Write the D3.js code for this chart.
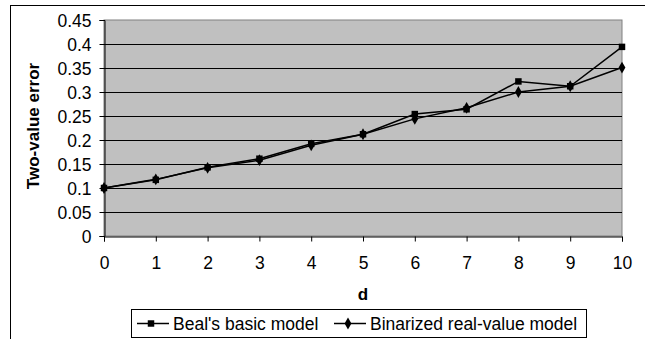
<!DOCTYPE html>
<html>
<head>
<meta charset="utf-8">
<script src="https://cdn.jsdelivr.net/npm/d3@7"></script>
<style>
  body { margin: 0; background: #fff; }
  svg { display: block; font-family: "Liberation Sans", Arial, sans-serif; }
</style>
</head>
<body>
<div id="chart"></div>
<script>
// valores
const d_vals = [0, 1, 2, 3, 4, 5, 6, 7, 8, 9, 10];
const beal = [0.100, 0.117, 0.143, 0.161, 0.192, 0.212, 0.254, 0.264, 0.322, 0.312, 0.394];
const binarized = [0.100, 0.118, 0.142, 0.158, 0.189, 0.212, 0.244, 0.267, 0.300, 0.312, 0.351];
const y_ticks = [0, 0.05, 0.1, 0.15, 0.2, 0.25, 0.3, 0.35, 0.4, 0.45];
const series_names = ["Beal's basic model", "Binarized real-value model"];

const width = 645, height = 339;
const margin = { top: 20, right: 23, bottom: 103, left: 104 };
const font_size = 17.5;

const svg = d3.select('#chart')
    .append('svg')
    .attr('width', width)
    .attr('height', height);

// moldura externa (cortada pela janela)
svg.append('rect')
    .attr('x', 10.5).attr('y', 5.5)
    .attr('width', 700).attr('height', 400)
    .attr('fill', 'none').attr('stroke', '#000');

const x = d3.scaleLinear().domain([0, 10]).range([margin.left, width - margin.right]);
const y = d3.scaleLinear().domain([0, 0.45]).range([height - margin.bottom, margin.top]);

svg.append('rect')
    .attr('x', margin.left).attr('y', margin.top)
    .attr('width', x(10) - x(0)).attr('height', y(0) - y(0.45))
    .attr('fill', '#c0c0c0').attr('stroke', '#808080');

// linhas de grade
svg.append('g')
    .selectAll('line')
    .data(y_ticks.filter(t => t > 0 && t < 0.45))
    .join('line')
    .attr('x1', x(0)).attr('x2', x(10))
    .attr('y1', d => Math.round(y(d)) + 0.5).attr('y2', d => Math.round(y(d)) + 0.5)
    .attr('stroke', '#000');

const yAxis = svg.append('g')
    .attr('transform', `translate(${margin.left + 0.5},0)`)
    .call(d3.axisLeft(y).tickValues(y_ticks).tickFormat(d3.format('')).tickSize(5).tickPadding(8));

const xAxis = svg.append('g')
    .attr('transform', `translate(0,${Math.round(y(0)) + 0.5})`)
    .call(d3.axisBottom(x).tickValues(d_vals).tickFormat(d3.format('d')).tickSize(5).tickPadding(15));

[yAxis, xAxis].forEach(a => {
    a.select('.domain').attr('stroke', '#000');
    a.selectAll('.tick line').attr('stroke', '#000');
    a.selectAll('text').attr('font-size', font_size).attr('fill', '#000')
        .attr('font-family', '"Liberation Sans", Arial, sans-serif');
});
yAxis.selectAll('text').attr('dy', '0.35em');

// títulos dos eixos
svg.append('text')
    .attr('x', (x(0) + x(10)) / 2).attr('y', 300)
    .attr('text-anchor', 'middle')
    .attr('font-size', 17).attr('font-weight', 'bold')
    .text('d');

svg.append('text')
    .attr('transform', `translate(39,${(y(0) + y(0.45)) / 2 - 2}) rotate(-90)`)
    .attr('text-anchor', 'middle')
    .attr('font-size', 17).attr('font-weight', 'bold')
    .text('Two-value error');

// séries
const line = d3.line().x((d, i) => x(d_vals[i])).y(d => y(d));

svg.append('path').datum(beal)
    .attr('d', line).attr('fill', 'none').attr('stroke', '#000').attr('stroke-width', 1.5);
svg.append('path').datum(binarized)
    .attr('d', line).attr('fill', 'none').attr('stroke', '#000').attr('stroke-width', 1.5);

const square = d3.symbol().type(d3.symbolSquare).size(42);
const diamond = d3.symbol().type(d3.symbolDiamond).size(40);

svg.append('g').selectAll('path')
    .data(binarized)
    .join('path')
    .attr('transform', (d, i) => `translate(${x(d_vals[i])},${y(d)})`)
    .attr('d', diamond).attr('fill', '#000');

svg.append('g').selectAll('path')
    .data(beal)
    .join('path')
    .attr('transform', (d, i) => `translate(${x(d_vals[i])},${y(d)})`)
    .attr('d', square).attr('fill', '#000');

// legenda
const legend = svg.append('g');
legend.append('rect')
    .attr('x', 131.5).attr('y', 309.5)
    .attr('width', 455).attr('height', 28)
    .attr('fill', '#fff').attr('stroke', '#000');

const leg_items = [
    { name: series_names[0], sym: square, x0: 137 },
    { name: series_names[1], sym: diamond, x0: 334 }
];
leg_items.forEach(it => {
    legend.append('line')
        .attr('x1', it.x0).attr('x2', it.x0 + 32)
        .attr('y1', 323.5).attr('y2', 323.5)
        .attr('stroke', '#000').attr('stroke-width', 1.5);
    legend.append('path')
        .attr('transform', `translate(${it.x0 + 14},323.5)`)
        .attr('d', it.sym).attr('fill', '#000');
    legend.append('text')
        .attr('x', it.x0 + 36).attr('y', 330)
        .attr('font-size', font_size)
        .text(it.name);
});
</script>
</body>
</html>
